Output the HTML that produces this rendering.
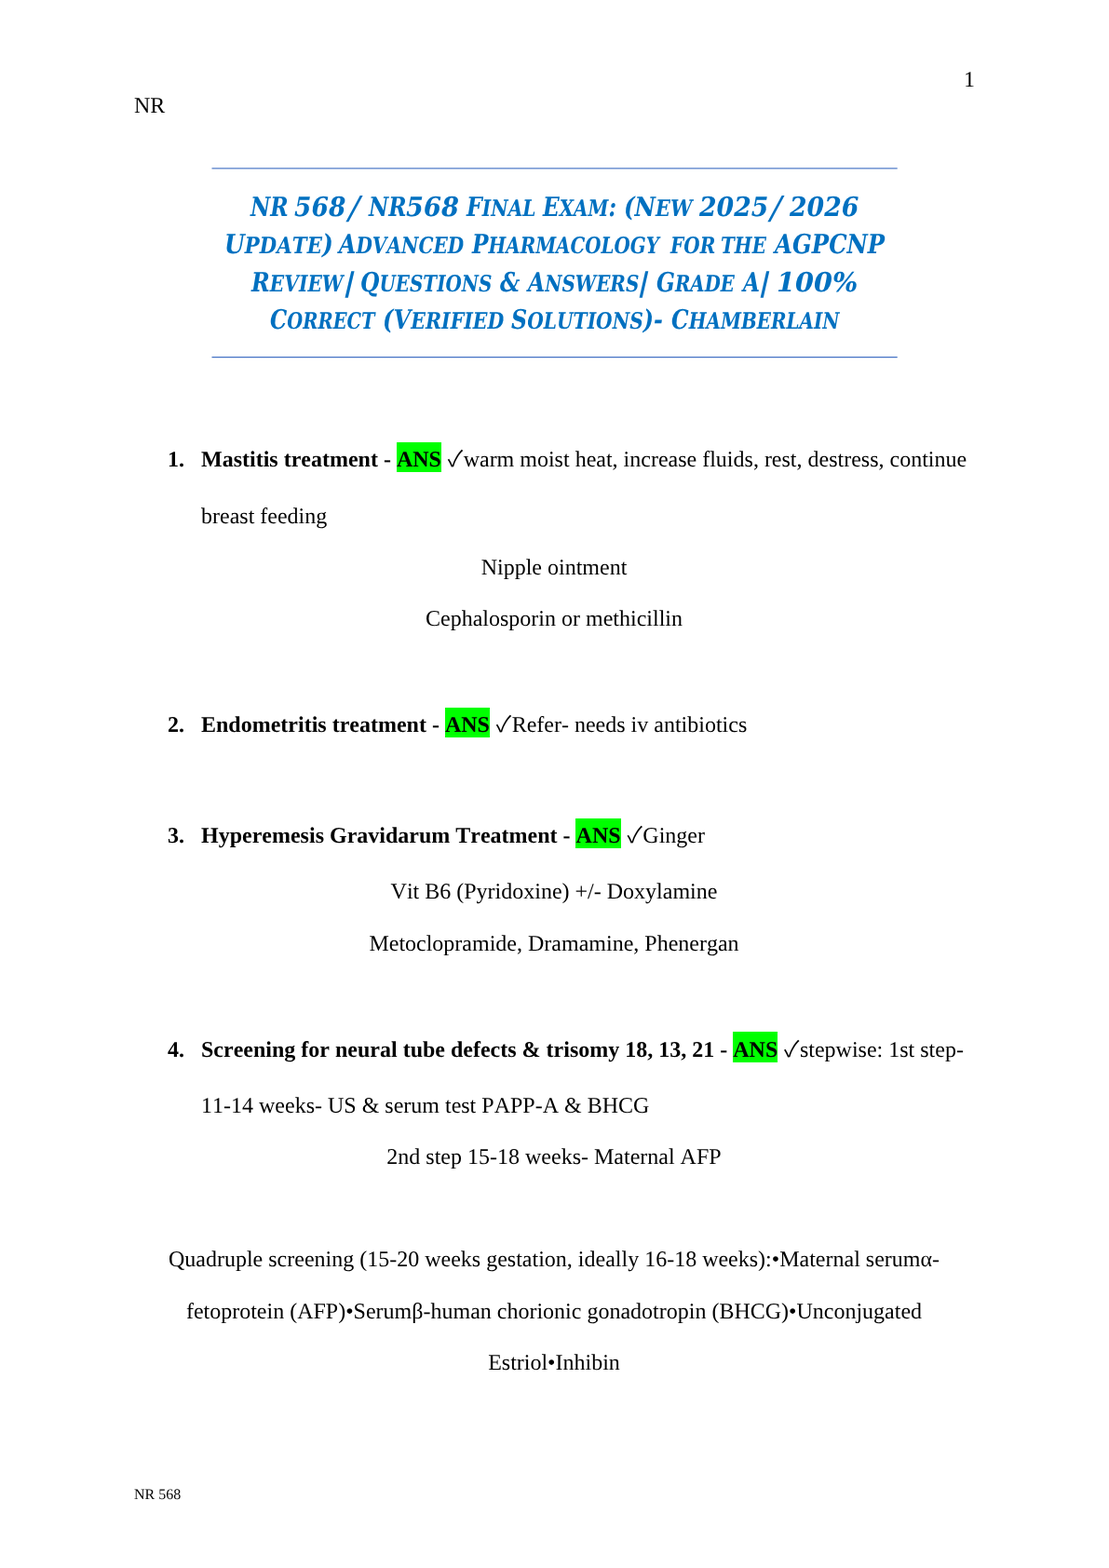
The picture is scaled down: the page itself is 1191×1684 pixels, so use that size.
<!DOCTYPE html>
<html lang="en">
<head>
<meta charset="utf-8">
<title>NR 568 Final Exam</title>
<style>
html,body{margin:0;padding:0;background:#fff;}
body{width:1191px;height:1684px;position:relative;overflow:hidden;will-change:transform;font-family:"Liberation Serif","DejaVu Serif",serif;color:#000;font-size:24px;line-height:28px;font-kerning:none;text-rendering:geometricPrecision;}
.l{position:absolute;white-space:pre;margin:0;height:28px;}
.c{left:143.5px;width:903px;text-align:center;}
b{font-weight:bold;}
.hl{background:#00ff00;padding:6px 0 0;}
.ck{font-family:"Noto Sans CJK JP","DejaVu Sans",sans-serif;font-size:24px;line-height:0;margin:0 0.5px 0 0.8px;}
.rule{position:absolute;left:227px;width:737px;height:1px;background:linear-gradient(90deg,rgba(68,114,196,.5) 0,rgba(68,114,196,.5) 1px,#4472c4 1px,#4472c4 736px,rgba(68,114,196,.7) 736px);}
.w{position:absolute;white-space:nowrap;font-family:"DejaVu Serif",serif;font-weight:bold;font-style:italic;color:#0070c0;font-size:28.6px;line-height:40px;height:40px;transform-origin:0 0;}
.w small{font-size:24.31px;}
.w{display:block;}
h1{margin:0;font:inherit;}
.f{font-size:16px;line-height:20px;height:20px;}

</style>
</head>
<body>
<p class="l" style="left:1035px;top:72px;">1</p>
<p class="l" style="left:144px;top:100px;">NR</p>
<div class="rule" style="top:180px;opacity:.72;"></div>
<div class="rule" style="top:181px;opacity:.45;"></div>
<h1>
<span class="w" style="left:268.84px;top:202px;transform:scaleX(0.8161);">NR</span>
<span class="w" style="left:316.29px;top:202px;transform:scaleX(0.9270);">568</span><span class="w" style="left:378.83px;top:199.1px;transform:scale(0.9514,1.1956) skewX(-10deg);">/</span>
<span class="w" style="left:395.53px;top:202px;transform:scaleX(0.8122);">NR</span><span class="w" style="left:436.38px;top:202px;transform:scaleX(0.9541);">568</span>
<span class="w" style="left:500.67px;top:202px;transform:scaleX(0.8292);">F<small>INAL</small></span>
<span class="w" style="left:583.27px;top:202px;transform:scaleX(0.8149);">E<small>XAM</small>:</span>
<span class="w" style="left:669.8px;top:202px;transform:scaleX(0.8591);">(N<small>EW</small></span>
<span class="w" style="left:751.3px;top:202px;transform:scaleX(0.9357);">2025</span><span class="w" style="left:832.43px;top:199.1px;transform:scale(0.9457,1.1956) skewX(-10deg);">/</span>
<span class="w" style="left:848.1px;top:202px;transform:scaleX(0.9341);">2026</span>
<span class="w" style="left:240.51px;top:242px;transform:scaleX(0.8759);">U<small>PDATE</small>)</span>
<span class="w" style="left:364.46px;top:242px;transform:scaleX(0.8287);">A<small>DVANCED</small></span>
<span class="w" style="left:507.46px;top:242px;transform:scaleX(0.8160);">P<small>HARMACOLOGY</small></span>
<span class="w" style="left:720.08px;top:242px;transform:scaleX(0.8234);"><small>FOR</small></span>
<span class="w" style="left:774.45px;top:242px;transform:scaleX(0.8197);"><small>THE</small></span>
<span class="w" style="left:832.31px;top:242px;transform:scaleX(0.8535);">AGPCNP</span>
<span class="w" style="left:270.18px;top:283px;transform:scaleX(0.8333);">R<small>EVIEW</small></span><span class="w" style="left:375.4px;top:283.03px;transform:scale(1.1092,0.9963) skewX(-12deg);">|</span>
<span class="w" style="left:387.49px;top:283px;transform:scaleX(0.8197);">Q<small>UESTIONS</small></span>
<span class="w" style="left:537.18px;top:283px;transform:scaleX(0.8282);">&amp;</span>
<span class="w" style="left:566.85px;top:283px;transform:scaleX(0.8201);">A<small>NSWERS</small></span><span class="w" style="left:691.31px;top:283.03px;transform:scale(1.0597,0.9963) skewX(-12deg);">|</span>
<span class="w" style="left:704.74px;top:283px;transform:scaleX(0.8145);">G<small>RADE</small></span>
<span class="w" style="left:797.92px;top:283px;transform:scaleX(0.8113);">A</span><span class="w" style="left:820.61px;top:283.03px;transform:scale(1.0597,0.9963) skewX(-12deg);">|</span>
<span class="w" style="left:834px;top:283px;transform:scaleX(1.0040);">100%</span>
<span class="w" style="left:290.24px;top:323px;transform:scaleX(0.8022);">C<small>ORRECT</small></span>
<span class="w" style="left:411.02px;top:323px;transform:scaleX(0.8467);">(V<small>ERIFIED</small></span>
<span class="w" style="left:548.9px;top:323px;transform:scaleX(0.8315);">S<small>OLUTIONS</small>)-</span>
<span class="w" style="left:720.72px;top:323px;transform:scaleX(0.8196);">C<small>HAMBERLAIN</small></span>
</h1>
<div class="rule" style="top:383px;"></div>
<div class="rule" style="top:384px;opacity:.25;"></div>
<p class="l" style="left:180px;top:480px;"><b>1.</b></p>
<p class="l" style="left:216px;top:480px;"><b>Mastitis treatment - </b><b class="hl">ANS</b> <span class="ck">✓</span>warm moist heat, increase fluids, rest, destress, continue</p>
<p class="l" style="left:216px;top:541px;">breast feeding</p>
<p class="l c" style="top:596px;">Nipple ointment</p>
<p class="l c" style="top:651px;">Cephalosporin or methicillin</p>
<p class="l" style="left:180px;top:765px;"><b>2.</b></p>
<p class="l" style="left:216px;top:765px;"><b>Endometritis treatment - </b><b class="hl">ANS</b> <span class="ck">✓</span>Refer- needs iv antibiotics</p>
<p class="l" style="left:180px;top:884px;"><b>3.</b></p>
<p class="l" style="left:216px;top:884px;"><b>Hyperemesis Gravidarum Treatment - </b><b class="hl" style="margin-left:-.6px;padding-left:.6px">ANS</b> <span class="ck">✓</span>Ginger</p>
<p class="l c" style="top:944px;">Vit B6 (Pyridoxine) +/- Doxylamine</p>
<p class="l c" style="top:1000px;">Metoclopramide, Dramamine, Phenergan</p>
<p class="l" style="left:180px;top:1114px;"><b>4.</b></p>
<p class="l" style="left:216px;top:1114px;"><b>Screening for neural tube defects &amp; trisomy 18, 13, 21 - </b><b class="hl" style="padding-top:7px">ANS</b> <span class="ck">✓</span>stepwise: 1st step-</p>
<p class="l" style="left:216px;top:1174px;">11-14 weeks- US &amp; serum test PAPP-A &amp; BHCG</p>
<p class="l c" style="top:1229px;">2nd step 15-18 weeks- Maternal AFP</p>
<p class="l c" style="top:1339px;">Quadruple screening (15-20 weeks gestation, ideally 16-18 weeks):•Maternal serumα-</p>
<p class="l c" style="top:1395px;">fetoprotein (AFP)•Serumβ-human chorionic gonadotropin (BHCG)•Unconjugated</p>
<p class="l c" style="top:1450px;">Estriol•Inhibin</p>
<p class="l f" style="left:144px;top:1596px;">NR 568</p>
</body>
</html>
